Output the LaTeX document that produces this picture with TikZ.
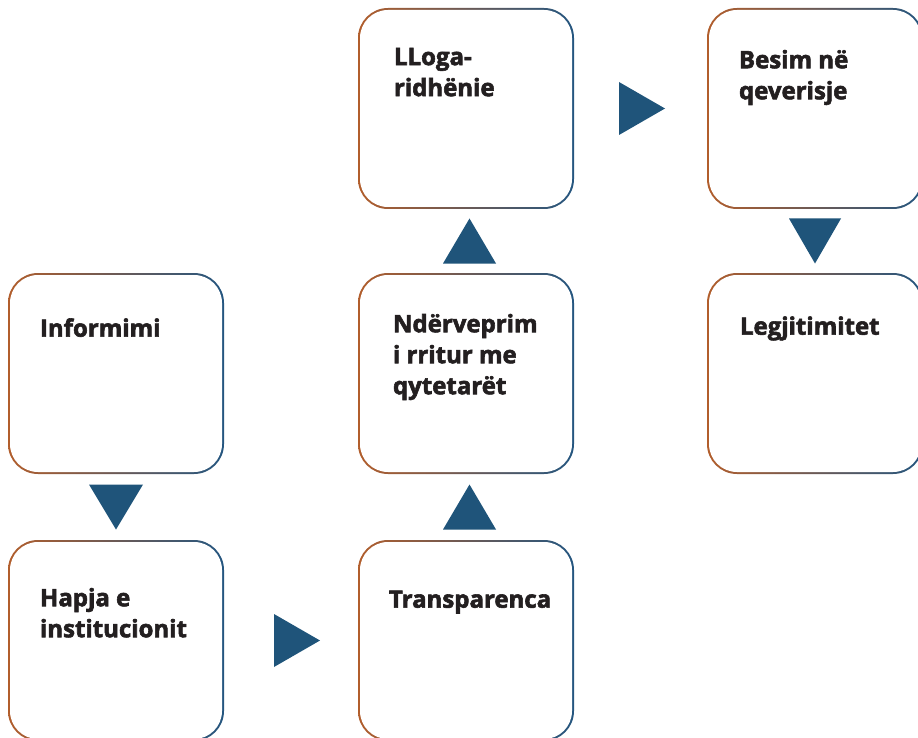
\documentclass[tikz,border=0pt]{standalone}
\usepackage{fontspec}
\setmainfont{Open Sans}[BoldFeatures={FakeBold=2.4}]
\usepackage{tikz}
\usetikzlibrary{calc}
\definecolor{brownc}{RGB}{178,94,44}
\definecolor{bluec}{RGB}{36,86,128}
\definecolor{arrowc}{RGB}{31,84,122}
\definecolor{textc}{RGB}{35,31,32}
\tikzset{
  box/.style={rounded corners=30pt, minimum width=216pt, minimum height=201pt,
    inner sep=0pt, left color=brownc, right color=bluec,
    path picture={\fill[white, rounded corners=28pt]
      ([shift={(2pt,-2pt)}]path picture bounding box.north west) rectangle
      ([shift={(-2pt,2pt)}]path picture bounding box.south east);}},
  lbl/.style={anchor=north west, inner sep=0pt, align=left, text=textc,
    font=\fontsize{24}{31}\selectfont\bfseries, execute at begin node=\strut},
}

\begin{document}
\begin{tikzpicture}[x=1pt,y=-1pt]
			\useasboundingbox (0,0) rectangle (918,738);
			% boxes
			\node[box] (inf) at (116,373.5) {};
			\node[box] (hap) at (116,640.5) {};
			\node[box] (tra) at (466,640.5) {};
			\node[box] (ndr) at (466,373.5) {};
			\node[box] (llo) at (466,108.5) {};
			\node[box] (bes) at (815,108.5) {};
			\node[box] (leg) at (815,373.5) {};
			% texts
			\node[lbl] at ($(inf.north west)+(32,42)$) {Informimi};
			\node[lbl] at ($(hap.north west)+(32,48)$) {Hapja e\\institucionit};
			\node[lbl] at ($(tra.north west)+(31,46)$) {Transparenca};
			\node[lbl] at ($(ndr.north west)+(35,41)$) {Ndërveprim\\i rritur me\\qytetarët};
			\node[lbl] at ($(llo.north west)+(36,40)$) {LLoga-\\ridhënie};
			\node[lbl] at ($(bes.north west)+(32,42)$) {Besim në\\qeverisje};
			\node[lbl] at ($(leg.north west)+(33,40)$) {Legjitimitet};
			% triangles
			\fill[arrowc] ($(inf.south)!0.5!(hap.north)$) ++(-27,-22.5) -- ++(54,0) -- ++(-27,45) -- cycle;
			\fill[arrowc] ($(hap.east)!0.5!(tra.west)+(6,0)$) ++(-23,-26.5) -- ++(0,53) -- ++(46,-26.5) -- cycle;
			\fill[arrowc] ($(tra.north)!0.5!(ndr.south)+(3.5,0)$) ++(-26.5,22.5) -- ++(53,0) -- ++(-26.5,-45) -- cycle;
			\fill[arrowc] ($(ndr.north)!0.5!(llo.south)+(3.5,0)$) ++(-26.5,22.5) -- ++(53,0) -- ++(-26.5,-45) -- cycle;
			\fill[arrowc] ($(llo.east)!0.5!(bes.west)+(1.5,0)$) ++(-23,-26.5) -- ++(0,53) -- ++(46,-26.5) -- cycle;
			\fill[arrowc] ($(bes.south)!0.5!(leg.north)$) ++(-26,-22.5) -- ++(52,0) -- ++(-26,45) -- cycle;
\end{tikzpicture}
\end{document}
